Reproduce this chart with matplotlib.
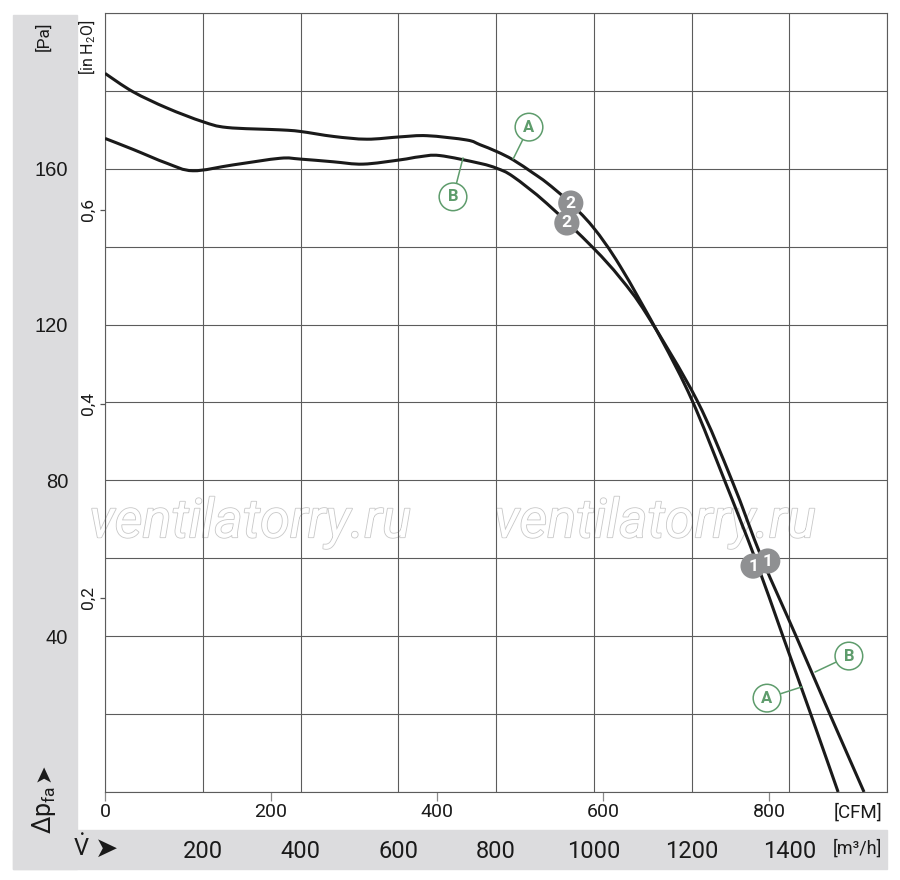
import matplotlib
matplotlib.use("Agg")
import numpy as np
import matplotlib.pyplot as plt
import matplotlib.patheffects as pe
from matplotlib import font_manager
from matplotlib.patches import Rectangle, PathPatch
from matplotlib.path import Path

installed = {f.name for f in font_manager.fontManager.ttflist}
NARROW = "Liberation Sans Narrow" if "Liberation Sans Narrow" in installed else "Roboto"
REGULAR = "Liberation Sans" if "Liberation Sans" in installed else "DejaVu Sans"

plt.rcParams["font.family"] = [NARROW, "DejaVu Sans"]
plt.rcParams["mathtext.fontset"] = "custom"
plt.rcParams["mathtext.rm"] = NARROW
plt.rcParams["mathtext.it"] = NARROW + ":italic"
plt.rcParams["mathtext.bf"] = NARROW + ":bold"

# curve A (upper at low flow), flow in m3/h, pressure in Pa
flow_a = [0, 57, 127, 200, 250, 358, 399, 468, 536, 604, 659, 740, 767, 802,
          835, 876, 904, 945, 998, 1054, 1136, 1201, 1268, 1330, 1387, 1444, 1500]
press_a = [184.5, 179.8, 175.6, 172.1, 170.6, 170.0, 169.6, 168.3, 167.6, 168.2,
           168.5, 167.4, 166.2, 164.4, 162.3, 158.9, 156.4, 152.0, 145.1, 135.0,
           116.8, 100.6, 79.9, 60.0, 40.0, 20.0, 0.0]

# curve B
flow_b = [0, 57, 127, 180, 262, 358, 399, 467, 528, 604, 644, 685, 767, 802, 835,
          904, 998, 1054, 1109, 1211, 1283, 1344, 1414, 1483, 1553]
press_b = [167.8, 165.0, 161.4, 159.5, 161.0, 162.7, 162.5, 161.8, 161.2, 162.3,
           163.1, 163.4, 161.4, 160.1, 158.0, 151.1, 139.8, 132.0, 122.5, 100.6,
           79.9, 60.0, 40.0, 20.0, 0.0]

# operating points 1 and 2
op_labels = ["1", "2"]
op_flow_a = [1326, 953]
op_press_a = [58.0, 151.2]
op_flow_b = [1356, 945]
op_press_b = [59.3, 146.1]

# axis ticks
pa_ticks = [40, 80, 120, 160]
m3h_ticks = [200, 400, 600, 800, 1000, 1200, 1400]
cfm_ticks = [0, 200, 400, 600, 800]
inh2o_ticks = [0.2, 0.4, 0.6]
inh2o_labels = ["0,2", "0,4", "0,6"]

GREEN = "#5e9c6c"
GREY_MARK = "#8f9092"
BAND = "#dcdcde"
GRID = "#5c5c5c"
INK = "#1a1a1a"

W, H = 900, 880
fig = plt.figure(figsize=(9, 8.8), dpi=100)


def fx(px):
    return px / W


def fy(py):
    return 1 - py / H


def smooth_path(xs, ys):
    # Catmull-Rom through the read points, drawn as cubic Bezier segments
    pts = np.column_stack([xs, ys]).astype(float)
    ext = np.vstack([pts[0], pts, pts[-1]])
    verts = [pts[0]]
    codes = [Path.MOVETO]
    for i in range(len(pts) - 1):
        p0, p1, p2, p3 = ext[i], ext[i + 1], ext[i + 2], ext[i + 3]
        verts += [p1 + (p2 - p0) / 6, p2 - (p3 - p1) / 6, p2]
        codes += [Path.CURVE4] * 3
    return Path(verts, codes)


# grey L-shaped band
fig.add_artist(Rectangle((fx(13), fy(869)), fx(77) - fx(13), (869 - 15) / H,
                         transform=fig.transFigure, color=BAND, zorder=-1))
fig.add_artist(Rectangle((fx(13), fy(869)), fx(887) - fx(13), (869 - 830) / H,
                         transform=fig.transFigure, color=BAND, zorder=-1))

ax = fig.add_axes([fx(105), fy(792), (887 - 105) / W, (792 - 13) / H])
ax.set_xlim(0, 1600)
ax.set_ylim(0, 200)

ax.set_xticks(range(0, 1601, 200))
ax.set_yticks(range(0, 201, 20), minor=True)
ax.set_yticks(pa_ticks)
ax.set_yticklabels([str(v) for v in pa_ticks], fontsize=14.5, family=REGULAR)
ax.tick_params(axis="x", which="both", length=0, labelbottom=False)
ax.tick_params(axis="y", which="both", length=0, pad=26.5, colors=INK)
ax.set_axisbelow(False)
ax.grid(True, which="both", color=GRID, lw=0.8)
for s in ax.spines.values():
    s.set_color(GRID)
    s.set_linewidth(0.8)

# watermark
for xc in [0.1854, 0.703]:
    ax.text(xc, 0.327, "ventilatorry.ru", transform=ax.transAxes, ha="center",
            va="baseline", fontsize=39, style="italic", family=NARROW, color="white",
            zorder=1, path_effects=[pe.Stroke(linewidth=1.2, foreground="#c8c8c8"),
                                    pe.Normal()])

for xs, ys in [(flow_a, press_a), (flow_b, press_b)]:
    ax.add_patch(PathPatch(smooth_path(xs, ys), fc="none", ec=INK, lw=2.2,
                           zorder=3, capstyle="butt"))

for fl, pr in [(op_flow_a, op_press_a), (op_flow_b, op_press_b)]:
    for q, p, lab in zip(fl, pr, op_labels):
        ax.scatter([q], [p], s=330, color=GREY_MARK, edgecolors="none", zorder=4)
        ax.text(q, p, lab, ha="center", va="center", fontsize=12.5,
                fontweight="bold", color="white", zorder=4.5)

# curve labels with leader lines
curve_tags = [("A", (867.5, 170.7), (835, 162.5)),
              ("B", (712, 152.8), (732.5, 162.8)),
              ("A", (1354.5, 24.1), (1426, 27.0)),
              ("B", (1522, 34.9), (1452.7, 30.8))]
for tag, txt_pos, pt in curve_tags:
    ax.annotate(tag, xy=pt, xytext=txt_pos, ha="center", va="center",
                fontsize=12, fontweight="bold", color=GREEN, zorder=5,
                bbox=dict(boxstyle="circle,pad=0.38", fc="white", ec=GREEN, lw=1.1),
                arrowprops=dict(arrowstyle="-", color=GREEN, lw=1.1,
                                shrinkA=0, shrinkB=0))

# CFM axis
sec_x = ax.secondary_xaxis("bottom", functions=(lambda q: q / 1.699,
                                                lambda c: c * 1.699))
sec_x.set_xticks(cfm_ticks)
sec_x.tick_params(length=6.5, width=0.9, color="#8a8a8a", pad=1.5, labelsize=14,
                  labelcolor=INK)
sec_x.spines["bottom"].set_visible(False)

# inH2O axis
sec_y = ax.secondary_yaxis("left", functions=(lambda p: p / 249.09,
                                              lambda h: h * 249.09))
sec_y.set_yticks(inh2o_ticks)
sec_y.set_yticklabels(inh2o_labels, rotation=90, va="center")
sec_y.tick_params(length=3.6, width=0.9, color="#555555", pad=3, labelsize=12.5,
                  labelcolor=INK)
sec_y.spines["left"].set_visible(False)

# m3/h values in the grey band
for q in m3h_ticks:
    ax.text(q, -0.0841, str(q), transform=ax.get_xaxis_transform(), ha="center",
            va="baseline", fontsize=17, color=INK)

# unit labels
fig.text(fx(43), fy(36), "[Pa]", rotation=90, ha="center", va="center",
         fontsize=12.5, color=INK)
fig.text(fx(87), fy(47), r"[in H$_2$O]", rotation=90, ha="center", va="center",
         fontsize=11.5, color=INK)
fig.text(fx(858), fy(813), "[CFM]", ha="center", va="center", fontsize=13.5,
         color=INK)
fig.text(fx(857), fy(849), "[m³/h]", ha="center", va="center", fontsize=13,
         color=INK)
fig.text(fx(44), fy(810), r"$\Delta\mathrm{p}_{\mathrm{fa}}$", rotation=90,
         ha="center", va="center", fontsize=18, color=INK)
fig.text(fx(43), fy(773), "➤", rotation=90, ha="center", va="center",
         fontsize=16, family="DejaVu Sans", color=INK)
fig.text(fx(81), fy(848), r"$\dot{\mathrm{V}}$", ha="center", va="center",
         fontsize=17, color=INK)
fig.text(fx(107), fy(849), "➤", ha="center", va="center", fontsize=20,
         family="DejaVu Sans", color=INK)

fig.savefig("out.png", dpi=100)
